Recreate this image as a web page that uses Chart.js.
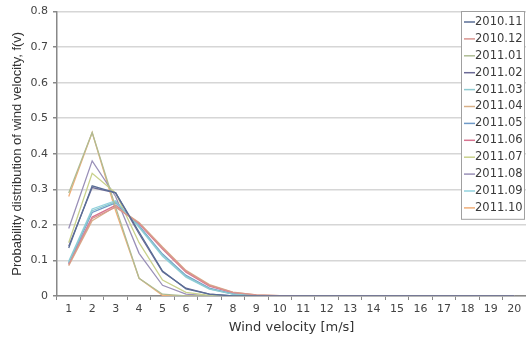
<!DOCTYPE html>
<html>
<head>
<meta charset="utf-8">
<script src="https://cdn.jsdelivr.net/npm/chart.js@4/dist/chart.umd.min.js"></script>
<style>
  html, body { margin: 0; padding: 0; background: #fff; }
  #wrap { width: 526px; height: 337px; }
</style>
</head>
<body>
<div id="wrap"><canvas id="chart"></canvas></div>
<script>
const velocities = ['1','2','3','4','5','6','7','8','9','10','11','12','13','14','15','16','17','18','19','20'];
const months = ['2010.11','2010.12','2011.01','2011.02','2011.03','2011.04','2011.05','2011.06','2011.07','2011.08','2011.09','2011.10'];
const colors = ['#5a6e96','#d9948f','#aebc94','#6b6a96','#8ecad0','#d8b088','#6f9ac8','#d77490','#c9d18c','#9a90b8','#92d2de','#f0ae78'];

const f201011 = [0.135, 0.31, 0.29, 0.18, 0.07, 0.02, 0.005, 0, 0, 0, 0, 0, 0, 0, 0, 0, 0, 0, 0, 0];
const f201012 = [0.088, 0.218, 0.25, 0.205, 0.135, 0.07, 0.03, 0.01, 0.003, 0.001, 0, 0, 0, 0, 0, 0, 0, 0, 0, 0];
const f201101 = [0.29, 0.46, 0.25, 0.05, 0.005, 0, 0, 0, 0, 0, 0, 0, 0, 0, 0, 0, 0, 0, 0, 0];
const f201102 = [0.14, 0.305, 0.29, 0.175, 0.068, 0.022, 0.005, 0, 0, 0, 0, 0, 0, 0, 0, 0, 0, 0, 0, 0];
const f201103 = [0.095, 0.24, 0.265, 0.195, 0.115, 0.055, 0.02, 0.005, 0.001, 0, 0, 0, 0, 0, 0, 0, 0, 0, 0, 0];
const f201104 = [0.085, 0.212, 0.252, 0.207, 0.138, 0.072, 0.032, 0.011, 0.003, 0.001, 0, 0, 0, 0, 0, 0, 0, 0, 0, 0];
const f201105 = [0.092, 0.235, 0.262, 0.198, 0.118, 0.058, 0.022, 0.006, 0.001, 0, 0, 0, 0, 0, 0, 0, 0, 0, 0, 0];
const f201106 = [0.09, 0.222, 0.255, 0.203, 0.132, 0.067, 0.028, 0.009, 0.002, 0, 0, 0, 0, 0, 0, 0, 0, 0, 0, 0];
const f201107 = [0.15, 0.345, 0.29, 0.15, 0.045, 0.01, 0.002, 0, 0, 0, 0, 0, 0, 0, 0, 0, 0, 0, 0, 0];
const f201108 = [0.19, 0.38, 0.28, 0.12, 0.03, 0.005, 0, 0, 0, 0, 0, 0, 0, 0, 0, 0, 0, 0, 0, 0];
const f201109 = [0.098, 0.245, 0.268, 0.193, 0.112, 0.053, 0.019, 0.005, 0.001, 0, 0, 0, 0, 0, 0, 0, 0, 0, 0, 0];
const f201110 = [0.28, 0.46, 0.24, 0.05, 0.002, 0, 0, 0, 0, 0, 0, 0, 0, 0, 0, 0, 0, 0, 0, 0];

const series = [f201011, f201012, f201101, f201102, f201103, f201104, f201105, f201106, f201107, f201108, f201109, f201110];

const wideFont = '"DejaVu Sans", Verdana, sans-serif';

// legend box drawn inside the plot, top right
const boxLegend = {
  id: 'boxLegend',
  afterDraw(chart) {
    const ctx = chart.ctx;
    const x0 = 461, y0 = 11, w = 63, rowH = 16.9;
    const h = rowH * chart.data.datasets.length + 5;
    ctx.save();
    ctx.fillStyle = '#fff';
    ctx.fillRect(x0, y0, w, h);
    ctx.strokeStyle = '#a0a0a0';
    ctx.lineWidth = 1;
    ctx.strokeRect(x0 + 0.5, y0 + 0.5, w, h);
    ctx.font = '11.5px ' + wideFont;
    ctx.textBaseline = 'middle';
    chart.data.datasets.forEach((ds, i) => {
      const y = y0 + 11 + i * rowH;
      ctx.strokeStyle = ds.borderColor;
      ctx.lineWidth = 1.5;
      ctx.beginPath();
      ctx.moveTo(x0 + 3, y);
      ctx.lineTo(x0 + 14, y);
      ctx.stroke();
      ctx.fillStyle = '#3a3a3a';
      ctx.fillText(ds.label, x0 + 14, y);
    });
    ctx.restore();
  }
};

new Chart(document.getElementById('chart'), {
  type: 'line',
  data: {
    labels: velocities,
    datasets: months.map((m, i) => ({
      label: m,
      data: series[i],
      borderColor: colors[i],
      backgroundColor: colors[i],
      borderWidth: 1.3,
      pointRadius: 0,
      tension: 0,
      fill: false
    }))
  },
  options: {
    responsive: true,
    maintainAspectRatio: false,
    animation: false,
    layout: { padding: { top: 11, right: 0, left: 0, bottom: 0 } },
    plugins: {
      legend: { display: false },
      tooltip: { enabled: false }
    },
    scales: {
      x: {
        offset: true,
        grid: { offset: true, drawOnChartArea: false, drawTicks: true, tickLength: 4, tickColor: '#888' },
        border: { color: '#888', width: 1.5 },
        ticks: { color: '#444', font: { size: 11, family: wideFont }, padding: 3, maxRotation: 0, autoSkip: false },
        title: { display: true, text: 'Wind velocity [m/s]', color: '#333', font: { size: 13, family: wideFont }, padding: { top: 0, bottom: 2 } },
        afterFit(scale) { scale.height = 41; }
      },
      y: {
        min: 0,
        max: 0.8,
        ticks: { stepSize: 0.1, color: '#444', font: { size: 11, family: wideFont }, padding: 5 },
        grid: { color: '#d6d6d6', lineWidth: 1.5, tickLength: 4, tickColor: '#888' },
        border: { color: '#888', width: 1.5 },
        title: { display: true, text: 'Probability distribution of wind velocity, f(v)', color: '#333', font: { size: 13, family: '"Liberation Sans", Arial' }, padding: { top: 10, bottom: 0 } },
        afterFit(scale) { scale.width = 57; }
      }
    }
  },
  plugins: [boxLegend]
});
</script>
</body>
</html>
